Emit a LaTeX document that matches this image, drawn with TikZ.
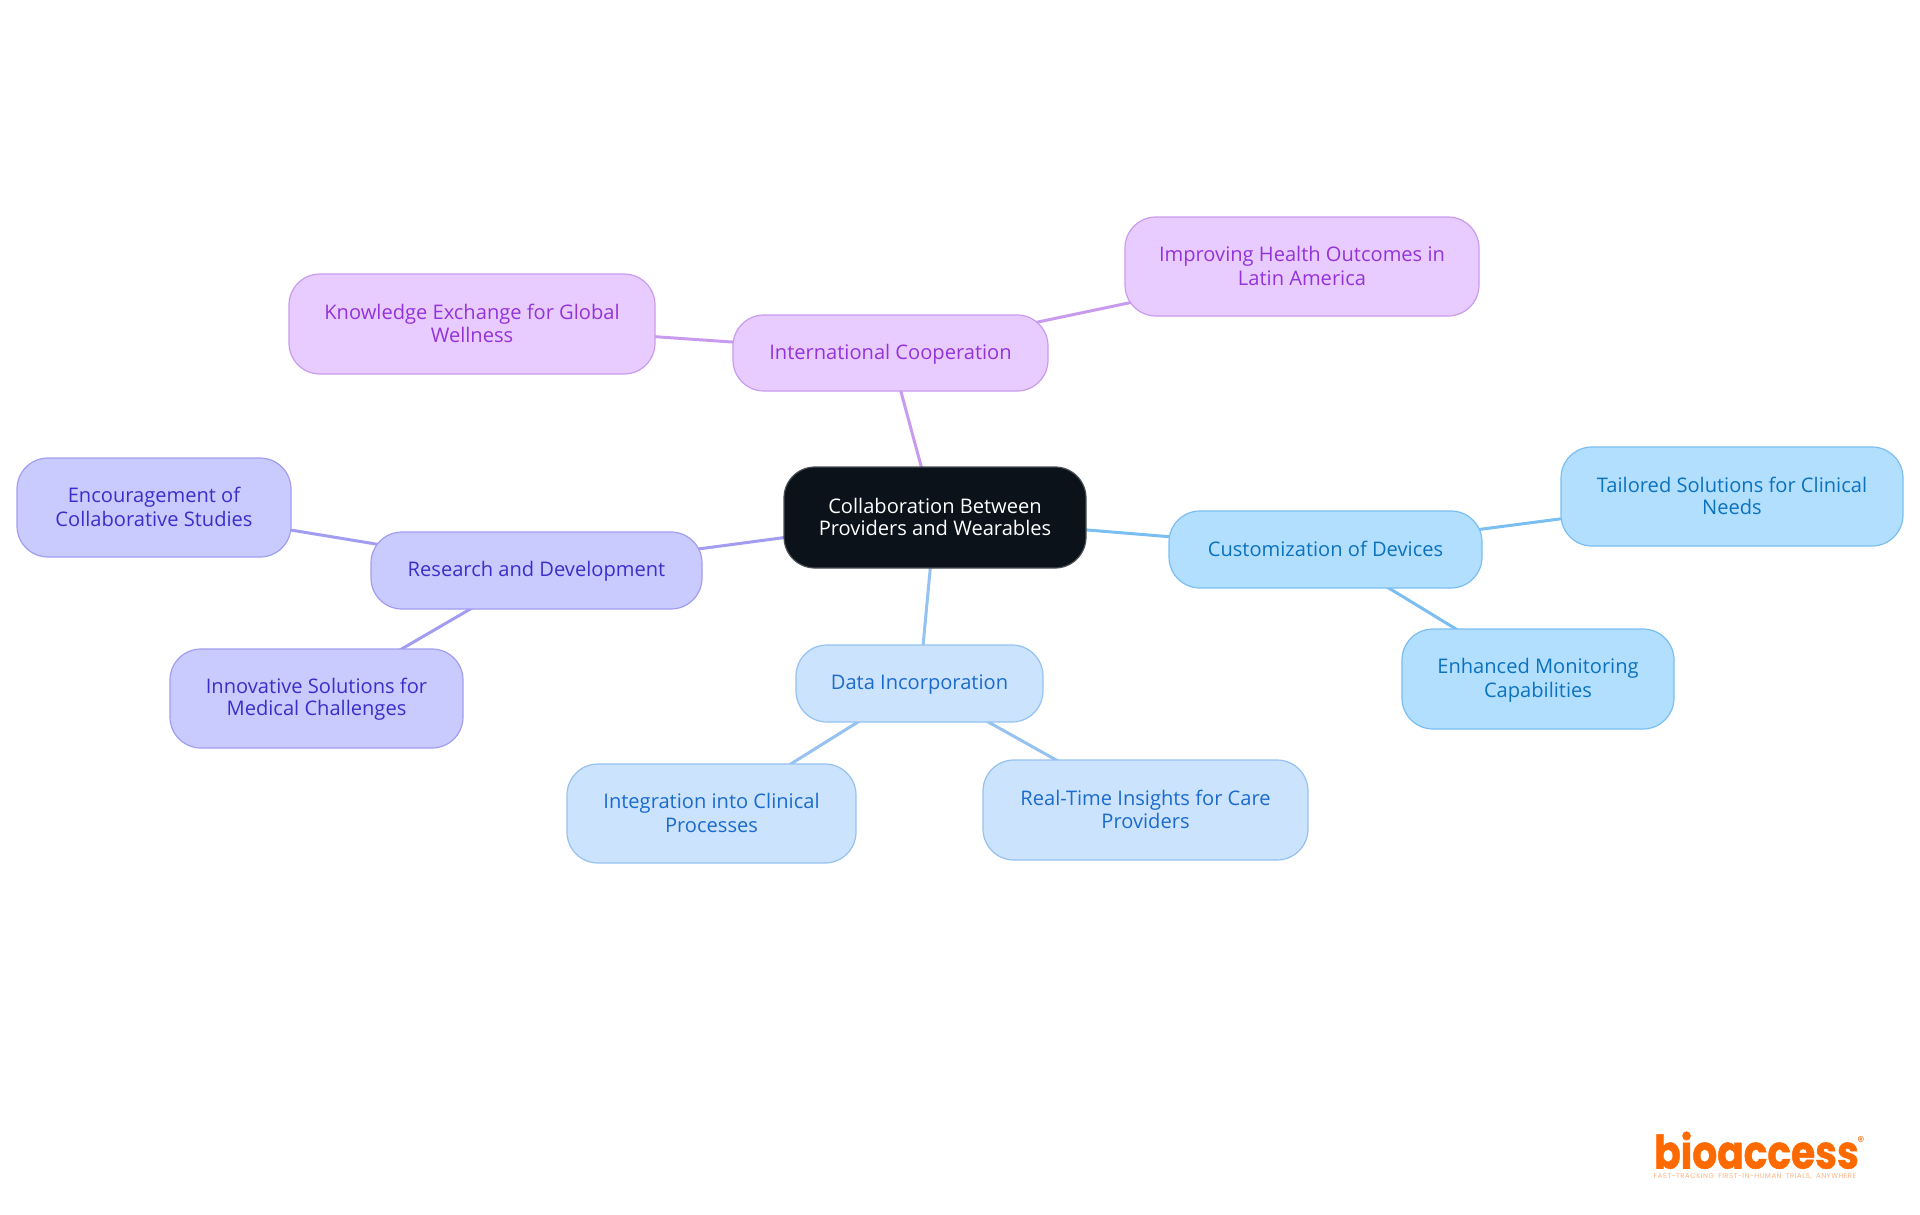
\documentclass[tikz,border=0pt]{standalone}
\usepackage{fontspec}
\setmainfont{Open Sans}
\newfontfamily\logofont{Poppins}[BoldFeatures={FakeBold=1.2}]
\newfontfamily\tagfont{Poppins}[LetterSpace=7,WordSpace=1.8]
\usetikzlibrary{backgrounds}
\definecolor{rootfill}{HTML}{0B1219}
\definecolor{rootline}{HTML}{4A4F55}
\definecolor{pfill}{HTML}{E9CCFF}
\definecolor{pline}{HTML}{C99BEF}
\definecolor{ptext}{HTML}{9333D9}
\definecolor{ifill}{HTML}{C9CBFF}
\definecolor{iline}{HTML}{A29DF0}
\definecolor{itext}{HTML}{3A2FC9}
\definecolor{bfill}{HTML}{CCE3FD}
\definecolor{bline}{HTML}{95C2F0}
\definecolor{btext}{HTML}{1A6BCC}
\definecolor{cfill}{HTML}{B3DFFF}
\definecolor{cline}{HTML}{7ABEF2}
\definecolor{ctext}{HTML}{0B72BE}
\definecolor{logoorange}{HTML}{FF6A00}
\definecolor{tagorange}{HTML}{FFB27F}
\tikzset{
  x=1pt,y=-1pt,
  box/.style={draw,line width=1.2pt,rounded corners=31pt,align=center,inner sep=0pt,
    font=\fontsize{20.1}{22}\selectfont},
  rootbox/.style={box,fill=rootfill,draw=rootline,text=white},
  pbox/.style={box,fill=pfill,draw=pline,text=ptext},
  ibox/.style={box,fill=ifill,draw=iline,text=itext},
  bbox/.style={box,fill=bfill,draw=bline,text=btext},
  cbox/.style={box,fill=cfill,draw=cline,text=ctext},
  link/.style={line width=3pt},
}
\newcommand{\mystrut}{\rule[-4pt]{0pt}{21.8pt}}
\newcommand{\placebox}[7]{%
  \node[#2,minimum width=#5pt-#3pt,minimum height=#6pt-#4pt] (#1) at ({(#3+#5)/2},{(#4+#6)/2}) {\mystrut #7\mystrut};}
\begin{document}
\begin{tikzpicture}
\useasboundingbox (0,0) rectangle (1920,1215);
\placebox{root}{rootbox}{784}{467}{1086}{568}{Collaboration Between\\Providers and Wearables}
\placebox{intl}{pbox}{733}{315}{1048}{391}{International Cooperation}
\placebox{health}{pbox}{1125}{217}{1479}{316}{Improving Health Outcomes in\\Latin America}
\placebox{know}{pbox}{289}{274}{655}{374}{Knowledge Exchange for Global\\Wellness}
\placebox{research}{ibox}{371}{532}{702}{609}{Research and Development}
\placebox{encour}{ibox}{17}{458}{291}{557}{Encouragement of\\Collaborative Studies}
\placebox{innov}{ibox}{170}{649}{463}{748}{Innovative Solutions for\\Medical Challenges}
\placebox{data}{bbox}{796}{645}{1043}{722}{Data Incorporation}
\placebox{integ}{bbox}{567}{764}{856}{863}{Integration into Clinical\\Processes}
\placebox{real}{bbox}{983}{760}{1308}{860}{Real-Time Insights for Care\\Providers}
\placebox{custom}{cbox}{1169}{511}{1482}{588}{Customization of Devices}
\placebox{tailor}{cbox}{1561}{447}{1903}{546}{Tailored Solutions for Clinical\\Needs}
\placebox{enh}{cbox}{1402}{629}{1674}{729}{Enhanced Monitoring\\Capabilities}
\begin{scope}[on background layer]
\draw[link,draw=pline] (root.center) -- (intl.center);
\draw[link,draw=pline] (intl.center) -- (health.center);
\draw[link,draw=pline] (intl.center) -- (know.center);
\draw[link,draw=iline] (root.center) -- (research.center);
\draw[link,draw=iline] (research.center) -- (encour.center);
\draw[link,draw=iline] (research.center) -- (innov.center);
\draw[link,draw=bline] (root.center) -- (data.center);
\draw[link,draw=bline] (data.center) -- (integ.center);
\draw[link,draw=bline] (data.center) -- (real.center);
\draw[link,draw=cline] (root.center) -- (custom.center);
\draw[link,draw=cline] (custom.center) -- (tailor.center);
\draw[link,draw=cline] (custom.center) -- (enh.center);
\end{scope}
\node[anchor=base west,inner sep=0pt,text=logoorange,font=\logofont\bfseries\fontsize{46}{46}\selectfont] (logo) at (1654,1168.5) {\scalebox{0.85}[1]{bioaccess}};
\node[anchor=center,inner sep=0pt,text=logoorange,font=\logofont\fontsize{14}{14}\selectfont] (reg) at (1861,1142) {®};
\node[anchor=center,inner sep=0pt,text=tagorange,font=\tagfont\fontsize{7}{7}\selectfont] (tag) at (1755,1177) {FAST-TRACKING FIRST-IN-HUMAN TRIALS, ANYWHERE};
\end{tikzpicture}
\end{document}
